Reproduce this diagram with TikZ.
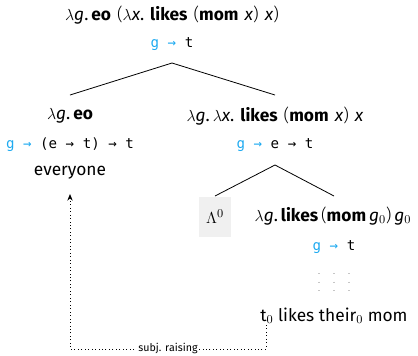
\documentclass[tikz,border=0pt]{standalone}
\usepackage{fontspec}
\setmainfont{Fira Sans}
\setmonofont{DejaVu Sans Mono}
\usetikzlibrary{arrows.meta}
\definecolor{gblue}{RGB}{30,170,240}
\definecolor{boxgray}{RGB}{240,240,240}
\newcommand{\gArr}{\textcolor{gblue}{g →}}
\newcommand{\vi}[1]{\textit{#1}}
\newcommand{\lam}{$\lambda$}
\newcommand{\textlight}[1]{{\fontspec{Fira Sans Light}#1}}
\newcommand{\lp}{\textlight{(}}
\newcommand{\rp}{\textlight{)}}
\newcommand{\gsp}{\hspace{4.5pt}}
\begin{document}
\begin{tikzpicture}[x=0.75pt,y=-0.75pt,
  lbl/.style={inner sep=1pt, font=\fontsize{13}{15}\selectfont},
  ty/.style={inner sep=1pt, font=\ttfamily\fontsize{10.6}{12}\selectfont},
  edge/.style={line width=0.6pt},
  raise/.style={dotted, line width=0.6pt, -{Stealth[length=5pt,width=4pt]}},
  dotcol/.style={gray!45, line width=1pt, dash pattern=on 0.9pt off 5.5pt}]
\useasboundingbox (0,0) rectangle (418,355);
% top
\node[lbl] (top) at (172,15) {\lam\vi{g}.\,\textbf{eo}\gsp\lp\lam\vi{x}.\gsp\textbf{likes}\gsp\lp\textbf{mom}\gsp\vi{x}\rp\gsp\vi{x}\rp};
\node[ty] (topty) at (172,44) {\gArr{} t};
\coordinate (a1) at (172,63);
\coordinate (l1) at (70,95);
\coordinate (r1) at (275,95);
\draw[edge] (l1) -- (a1) -- (r1);
% left
\node[lbl] (eo) at (70,116) {\lam\vi{g}.\,\textbf{eo}};
\node[ty] (eoty) at (70,145) {\gArr{} (e → t) → t};
\node[lbl] (every) at (70,173) {everyone};
% right
\node[lbl] (vp) at (275,116) {\lam\vi{g}.\,\lam\vi{x}.\gsp\textbf{likes}\gsp\lp\textbf{mom}\gsp\vi{x}\rp\gsp\vi{x}};
\node[ty] (vpty) at (275,145) {\gArr{} e → t};
\coordinate (a2) at (275,165);
\coordinate (l2) at (215,196);
\coordinate (r2) at (334,196);
\draw[edge] (l2) -- (a2) -- (r2);
% Lambda box
\node[fill=boxgray, minimum width=24pt, minimum height=30pt, inner sep=0pt, font=\fontsize{13}{15}\selectfont] (lam) at (215,217) {$\Lambda^0$};
\node[lbl] (s) at (333,216) {\lam\vi{g}.\,\textbf{likes}\,\lp\textbf{mom}\,\vi{g}$_0$\rp\,\vi{g}$_0$};
\node[ty] (sty) at (334,247) {\gArr{} t};
% dots
\coordinate (d1t) at (319,273); \coordinate (d1b) at (319,295);
\coordinate (d2t) at (334,273); \coordinate (d2b) at (334,295);
\coordinate (d3t) at (349,273); \coordinate (d3b) at (349,295);
\draw[dotcol] (d1t) -- (d1b);
\draw[dotcol] (d2t) -- (d2b);
\draw[dotcol] (d3t) -- (d3b);
\node[lbl] (sent) at (334,316) {t$_0$ likes their$_0$ mom};
% raising arrow
\coordinate (rs) at (266,325);
\coordinate (rc1) at (266,349);
\coordinate (rc2) at (70,349);
\coordinate (re) at (70,194);
\draw[raise] (rs) -- (rc1) -- (rc2) -- (re);
\node[fill=white, inner sep=1pt, font=\fontsize{8}{9}\selectfont] (rl) at (168,348) {subj. raising};
\end{tikzpicture}
\end{document}
